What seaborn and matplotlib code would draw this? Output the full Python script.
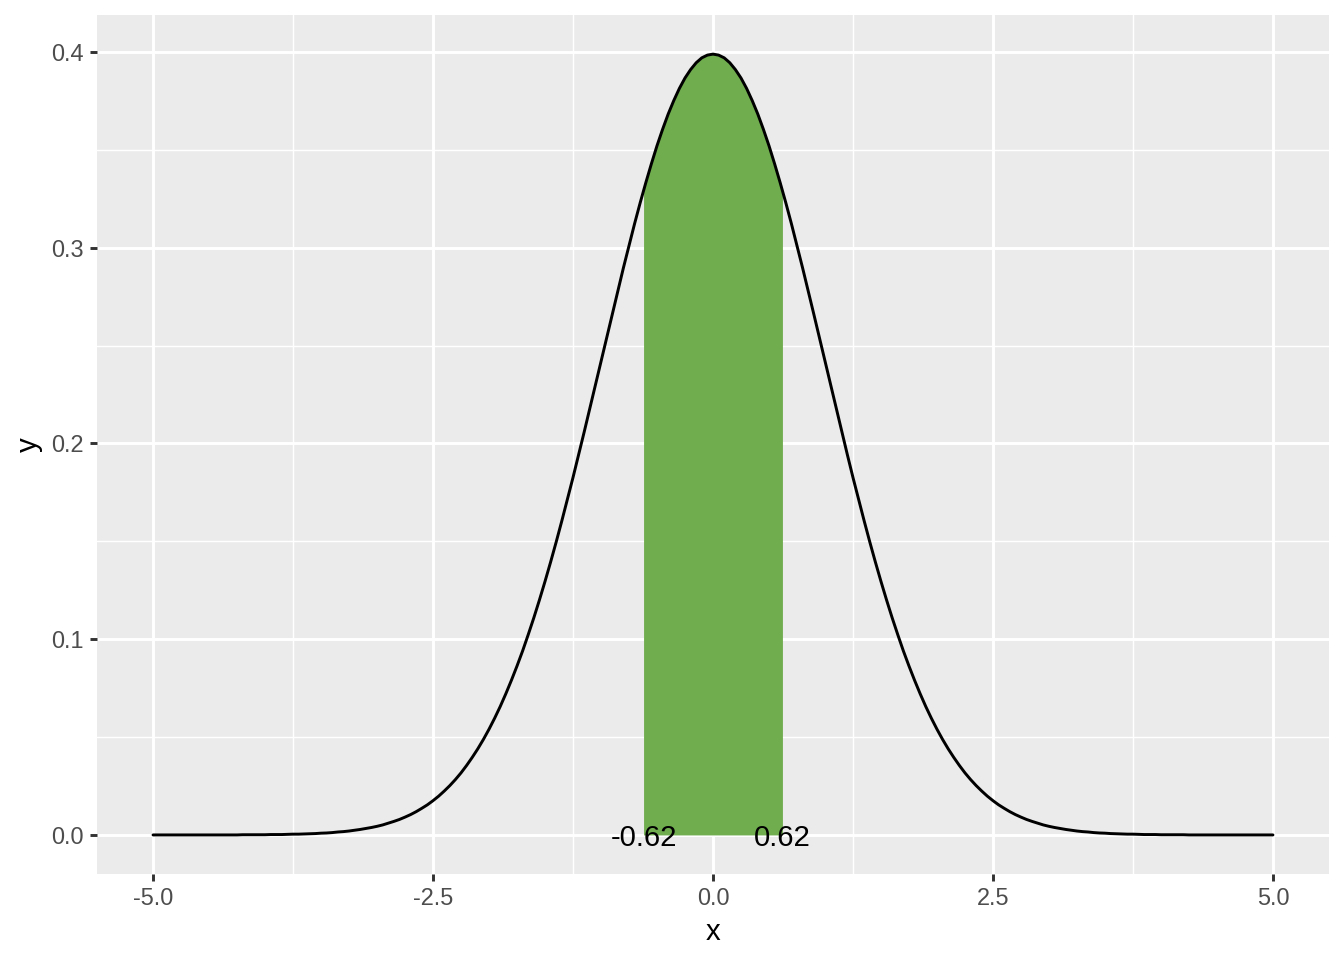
import matplotlib
matplotlib.use("Agg")
import matplotlib.pyplot as plt
import seaborn as sns
import pandas as pd

# Mitad derecha de la curva (x de 0 a 5 con paso 0.05);
# la curva es simétrica, la mitad izquierda es la misma lista al revés
half_y = [
    0.3989, 0.3984, 0.3970, 0.3945, 0.3910, 0.3867, 0.3814, 0.3752, 0.3683, 0.3605,
    0.3521, 0.3429, 0.3332, 0.3230, 0.3123, 0.3011, 0.2897, 0.2780, 0.2661, 0.2541,
    0.2420, 0.2299, 0.2179, 0.2059, 0.1942, 0.1826, 0.1714, 0.1604, 0.1497, 0.1394,
    0.1295, 0.1200, 0.1109, 0.1023, 0.0940, 0.0863, 0.0790, 0.0721, 0.0656, 0.0596,
    0.0540, 0.0488, 0.0440, 0.0396, 0.0355, 0.0317, 0.0283, 0.0252, 0.0224, 0.0198,
    0.0175, 0.0154, 0.0136, 0.0119, 0.0104, 0.0091, 0.0079, 0.0069, 0.0060, 0.0051,
    0.0044, 0.0038, 0.0033, 0.0028, 0.0024, 0.0020, 0.0017, 0.0015, 0.0012, 0.0010,
    0.0009, 0.0007, 0.0006, 0.0005, 0.0004, 0.0004, 0.0003, 0.0002, 0.0002, 0.0002,
    0.0001, 0.0001, 0.0001, 0.0001, 0.0001, 0.0000, 0.0000, 0.0000, 0.0000, 0.0000,
    0.0000, 0.0000, 0.0000, 0.0000, 0.0000, 0.0000, 0.0000, 0.0000, 0.0000, 0.0000,
    0.0000,
]
x_vals = [round(-5 + 0.05 * i, 2) for i in range(201)]
y_vals = half_y[::-1] + half_y[1:]

# Zona sombreada y sus etiquetas
shade_lo, shade_hi = -0.62, 0.62
shade_edge_y = 0.3292
shade_labels = ["-0.62", "0.62"]

x_ticks = [-5.0, -2.5, 0.0, 2.5, 5.0]
x_tick_labels = ["-5.0", "-2.5", "0.0", "2.5", "5.0"]
y_ticks = [0.0, 0.1, 0.2, 0.3, 0.4]
y_tick_labels = ["0.0", "0.1", "0.2", "0.3", "0.4"]

df = pd.DataFrame({"x": x_vals, "y": y_vals})

sns.set_theme(style="darkgrid")
plt.rcParams["font.family"] = ["Liberation Sans", "DejaVu Sans"]

fig, ax = plt.subplots(figsize=(7, 5), dpi=192)
fig.subplots_adjust(left=0.0722, right=0.9888, bottom=0.0896, top=0.9844)
ax.set_facecolor("#EBEBEB")

# Área verde entre -0.62 y 0.62
inner = df[(df["x"] > shade_lo) & (df["x"] < shade_hi)]
fx = [shade_lo] + list(inner["x"]) + [shade_hi]
fy = [shade_edge_y] + list(inner["y"]) + [shade_edge_y]
ax.fill_between(fx, 0, fy, color="#70AD4F", linewidth=0, zorder=2)

sns.lineplot(data=df, x="x", y="y", ax=ax, color="black", linewidth=1.1, zorder=3)

for xv, lab in zip([shade_lo, shade_hi], shade_labels):
    ax.text(xv, 0, lab, ha="center", va="center_baseline", fontsize=11,
            color="black", zorder=4)

ax.set_xlim(-5.5, 5.5)
ax.set_ylim(-0.01995, 0.4189)
ax.set_xticks(x_ticks)
ax.set_xticklabels(x_tick_labels)
ax.set_yticks(y_ticks)
ax.set_yticklabels(y_tick_labels)
ax.set_xticks([-3.75, -1.25, 1.25, 3.75], minor=True)
ax.set_yticks([0.05, 0.15, 0.25, 0.35], minor=True)

ax.grid(which="major", color="white", linewidth=1.1)
ax.grid(which="minor", color="white", linewidth=0.55)
ax.set_axisbelow(True)
for s in ax.spines.values():
    s.set_visible(False)

ax.tick_params(axis="both", which="major", length=2.75, width=1.1, color="#333333",
               labelsize=8.8, labelcolor="#4D4D4D", pad=2.2, bottom=True, left=True)
ax.tick_params(axis="both", which="minor", length=0)

ax.set_xlabel("x", fontsize=11, color="black", labelpad=3)
ax.set_ylabel("y", fontsize=11, color="black", labelpad=3)

plt.savefig("out.png", dpi=192)
